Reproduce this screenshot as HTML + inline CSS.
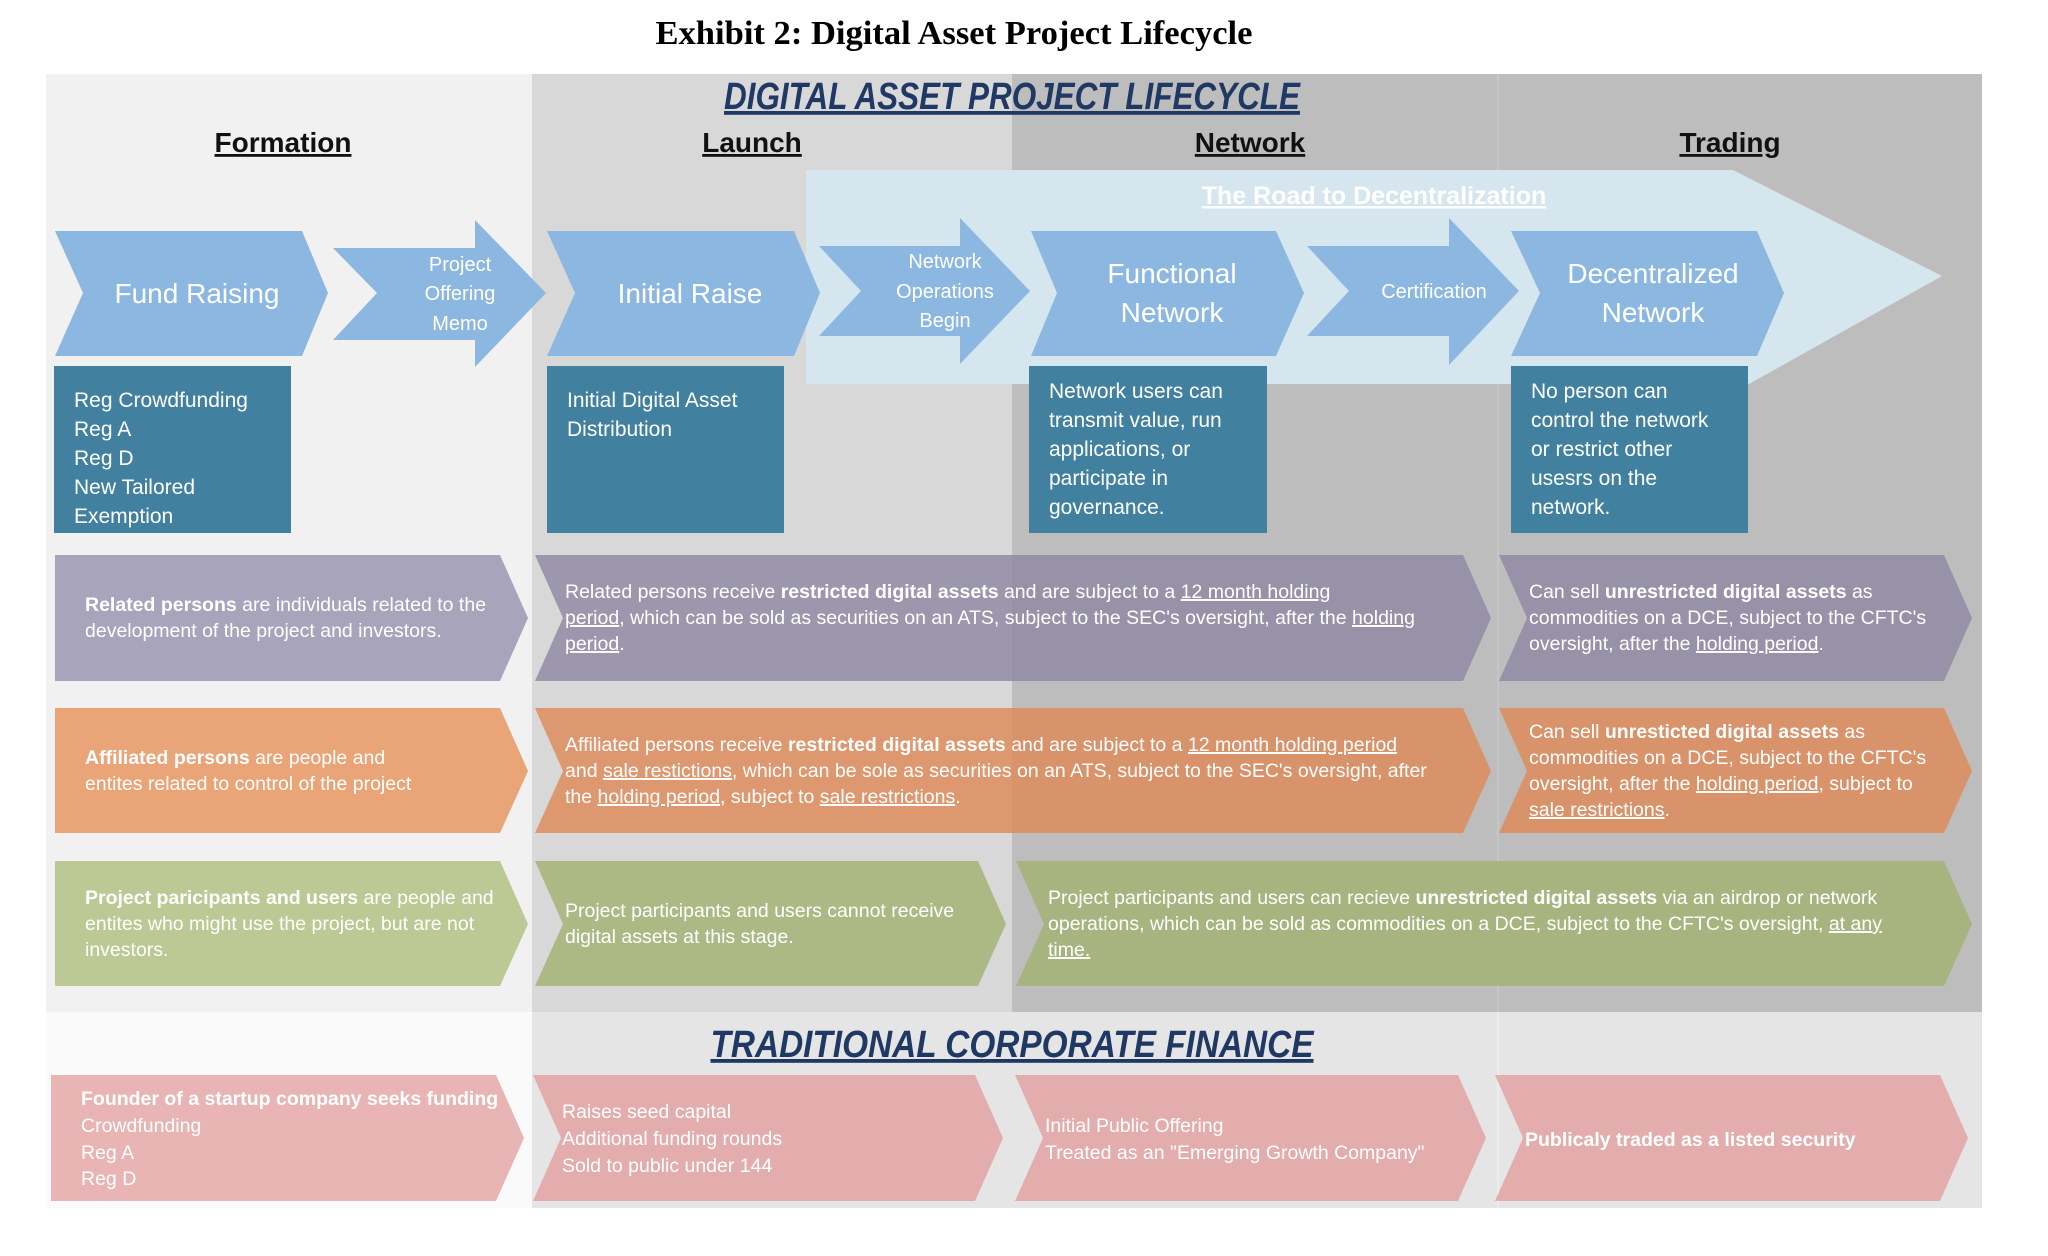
<!DOCTYPE html>
<html><head><meta charset="utf-8"><style>
html,body{margin:0;padding:0;background:#fff;}
svg{display:block;}
text{font-family:"Liberation Sans",sans-serif;}
.w{fill:#fff;font-size:19.5px;}
.b{font-weight:bold;}
.u{text-decoration:underline;}
.box{fill:#fff;font-size:21px;}
</style></head><body>
<svg width="2048" height="1256" viewBox="0 0 2048 1256" xmlns="http://www.w3.org/2000/svg">
<rect width="2048" height="1256" fill="#fff"/>
<text x="954" y="44" text-anchor="middle" textLength="597" lengthAdjust="spacingAndGlyphs" style="font-family:'Liberation Serif',serif;font-weight:bold;font-size:34px;fill:#000">Exhibit 2: Digital Asset Project Lifecycle</text>

<rect x="46" y="74" width="486" height="938" fill="#f1f1f1"/>
<rect x="532" y="74" width="480" height="938" fill="#d8d8d8"/>
<rect x="1012" y="74" width="970" height="938" fill="#bdbdbd"/>
<line x1="1498" y1="74" x2="1498" y2="1208" stroke="#d0d0d0" stroke-width="1"/>
<rect x="46" y="1012" width="486" height="196" fill="#fafafa"/>
<rect x="532" y="1012" width="1450" height="196" fill="#e5e5e5"/>
<line x1="1498" y1="1012" x2="1498" y2="1208" stroke="#f2f2f2" stroke-width="1"/>

<text x="1012" y="109" text-anchor="middle" textLength="576" lengthAdjust="spacingAndGlyphs" class="b u" style="font-style:italic;font-size:38px;fill:#1f3864">DIGITAL ASSET PROJECT LIFECYCLE</text>
<text x="283" y="152" text-anchor="middle" class="b u" style="font-size:28px;fill:#111">Formation</text>
<text x="752" y="152" text-anchor="middle" class="b u" style="font-size:28px;fill:#111">Launch</text>
<text x="1250" y="152" text-anchor="middle" class="b u" style="font-size:28px;fill:#111">Network</text>
<text x="1730" y="152" text-anchor="middle" class="b u" style="font-size:28px;fill:#111">Trading</text>

<polygon points="806,170 1733,170 1942,276 1749,384 806,384" fill="#d6e6ef"/>
<text x="1374" y="204" text-anchor="middle" class="u" style="font-size:25px;fill:#fff;font-weight:bold">The Road to Decentralization</text>

<g fill="#8cb7e0">
<polygon points="55,231 302,231 328,293 302,356 55,356 83,293"/>
<polygon points="333,248 475,248 475,220 546,293 475,367 475,340 333,340 377,293"/>
<polygon points="547,231 794,231 820,293 794,356 547,356 575,293"/>
<polygon points="819,246 960,246 960,218 1030,291 960,364 960,336 819,336 861,291"/>
<polygon points="1031,231 1276,231 1304,293 1276,356 1031,356 1057,293"/>
<polygon points="1307,246 1449,246 1449,218 1519,291 1449,365 1449,336 1307,336 1349,291"/>
<polygon points="1511,231 1757,231 1784,293 1757,356 1511,356 1540,293"/>
</g>
<g fill="#fff" text-anchor="middle">
<text x="197" y="303" style="font-size:28px">Fund Raising</text>
<text x="460" y="271" style="font-size:20px">Project</text>
<text x="460" y="300" style="font-size:20px">Offering</text>
<text x="460" y="330" style="font-size:20px">Memo</text>
<text x="690" y="303" style="font-size:28px">Initial Raise</text>
<text x="945" y="268" style="font-size:20px">Network</text>
<text x="945" y="298" style="font-size:20px">Operations</text>
<text x="945" y="327" style="font-size:20px">Begin</text>
<text x="1172" y="283" style="font-size:28px">Functional</text>
<text x="1172" y="322" style="font-size:28px">Network</text>
<text x="1434" y="298" style="font-size:20px">Certification</text>
<text x="1653" y="283" style="font-size:28px">Decentralized</text>
<text x="1653" y="322" style="font-size:28px">Network</text>
</g>

<g fill="#41819f">
<rect x="54" y="366" width="237" height="167"/>
<rect x="547" y="366" width="237" height="167"/>
<rect x="1029" y="366" width="238" height="167"/>
<rect x="1511" y="366" width="237" height="167"/>
</g>
<g class="box">
<text x="74" y="407" class="box">Reg Crowdfunding</text>
<text x="74" y="436" class="box">Reg A</text>
<text x="74" y="465" class="box">Reg D</text>
<text x="74" y="494" class="box">New Tailored</text>
<text x="74" y="523" class="box">Exemption</text>
<text x="567" y="407" class="box">Initial Digital Asset</text>
<text x="567" y="436" class="box">Distribution</text>
<text x="1049" y="398" class="box">Network users can</text>
<text x="1049" y="427" class="box">transmit value, run</text>
<text x="1049" y="456" class="box">applications, or</text>
<text x="1049" y="485" class="box">participate in</text>
<text x="1049" y="514" class="box">governance.</text>
<text x="1531" y="398" class="box">No person can</text>
<text x="1531" y="427" class="box">control the network</text>
<text x="1531" y="456" class="box">or restrict other</text>
<text x="1531" y="485" class="box">usesrs on the</text>
<text x="1531" y="514" class="box">network.</text>
</g>

<polygon points="55,555 500,555 528,618 500,681 55,681" fill="#a7a4bc"/>
<polygon points="535,555 1463,555 1491,618 1463,681 535,681 563,618" fill="rgb(141,135,163)" fill-opacity="0.8"/>
<polygon points="1499,555 1944,555 1972,618 1944,681 1499,681 1527,618" fill="rgb(141,135,163)" fill-opacity="0.8"/>
<polygon points="55,708 500,708 528,771 500,833 55,833" fill="#e9a477"/>
<polygon points="535,708 1463,708 1491,771 1463,833 535,833 563,771" fill="rgb(223,136,86)" fill-opacity="0.8"/>
<polygon points="1499,708 1944,708 1972,771 1944,833 1499,833 1527,771" fill="rgb(223,136,86)" fill-opacity="0.8"/>
<polygon points="55,861 500,861 528,924 500,986 55,986" fill="#bcc994"/>
<polygon points="535,861 978,861 1006,924 978,986 535,986 563,924" fill="rgb(162,178,113)" fill-opacity="0.8"/>
<polygon points="1016,861 1944,861 1972,924 1944,986 1016,986 1044,924" fill="rgb(162,178,113)" fill-opacity="0.8"/>
<polygon points="51,1075 496,1075 524,1138 496,1201 51,1201" fill="#e8b4b4"/>
<polygon points="533,1075 975,1075 1003,1138 975,1201 533,1201 561,1138" fill="#e3adad"/>
<polygon points="1015,1075 1458,1075 1486,1138 1458,1201 1015,1201 1043,1138" fill="#e3adad"/>
<polygon points="1495,1075 1940,1075 1968,1138 1940,1201 1495,1201 1523,1138" fill="#e3adad"/>

<text x="1012" y="1057" text-anchor="middle" textLength="603" lengthAdjust="spacingAndGlyphs" class="b u" style="font-style:italic;font-size:38px;fill:#1f3864">TRADITIONAL CORPORATE FINANCE</text>

<g class="w">
<text x="85" y="611" class="w"><tspan class="b">Related persons</tspan> are individuals related to the</text>
<text x="85" y="637" class="w">development of the project and investors.</text>
<text x="565" y="598" class="w">Related persons receive <tspan class="b">restricted digital assets</tspan> and are subject to a <tspan class="u">12 month holding</tspan></text>
<text x="565" y="624" class="w"><tspan class="u">period</tspan>, which can be sold as securities on an ATS, subject to the SEC's oversight, after the <tspan class="u">holding</tspan></text>
<text x="565" y="650" class="w"><tspan class="u">period</tspan>.</text>
<text x="1529" y="598" class="w">Can sell <tspan class="b">unrestricted digital assets</tspan> as</text>
<text x="1529" y="624" class="w">commodities on a DCE, subject to the CFTC's</text>
<text x="1529" y="650" class="w">oversight, after the <tspan class="u">holding period</tspan>.</text>

<text x="85" y="764" class="w"><tspan class="b">Affiliated persons</tspan> are people and</text>
<text x="85" y="790" class="w">entites related to control of the project</text>
<text x="565" y="751" class="w">Affiliated persons receive <tspan class="b">restricted digital assets</tspan> and are subject to a <tspan class="u">12 month holding period</tspan></text>
<text x="565" y="777" class="w">and <tspan class="u">sale restictions</tspan>, which can be sole as securities on an ATS, subject to the SEC's oversight, after</text>
<text x="565" y="803" class="w">the <tspan class="u">holding period</tspan>, subject to <tspan class="u">sale restrictions</tspan>.</text>
<text x="1529" y="738" class="w">Can sell <tspan class="b">unresticted digital assets</tspan> as</text>
<text x="1529" y="764" class="w">commodities on a DCE, subject to the CFTC's</text>
<text x="1529" y="790" class="w">oversight, after the <tspan class="u">holding period</tspan>, subject to</text>
<text x="1529" y="816" class="w"><tspan class="u">sale restrictions</tspan>.</text>

<text x="85" y="904" class="w"><tspan class="b">Project paricipants and users</tspan> are people and</text>
<text x="85" y="930" class="w">entites who might use the project, but are not</text>
<text x="85" y="956" class="w">investors.</text>
<text x="565" y="917" class="w">Project participants and users cannot receive</text>
<text x="565" y="943" class="w">digital assets at this stage.</text>
<text x="1048" y="904" class="w">Project participants and users can recieve <tspan class="b">unrestricted digital assets</tspan> via an airdrop or network</text>
<text x="1048" y="930" class="w">operations, which can be sold as commodities on a DCE, subject to the CFTC's oversight, <tspan class="u">at any</tspan></text>
<text x="1048" y="956" class="w"><tspan class="u">time.</tspan></text>

<text x="81" y="1105" class="w b">Founder of a startup company seeks funding</text>
<text x="81" y="1132" class="w">Crowdfunding</text>
<text x="81" y="1159" class="w">Reg A</text>
<text x="81" y="1185" class="w">Reg D</text>
<text x="562" y="1118" class="w">Raises seed capital</text>
<text x="562" y="1145" class="w">Additional funding rounds</text>
<text x="562" y="1172" class="w">Sold to public under 144</text>
<text x="1045" y="1132" class="w">Initial Public Offering</text>
<text x="1045" y="1159" class="w">Treated as an "Emerging Growth Company"</text>
<text x="1525" y="1146" class="w b">Publicaly traded as a listed security</text>
</g>
</svg>
</body></html>
